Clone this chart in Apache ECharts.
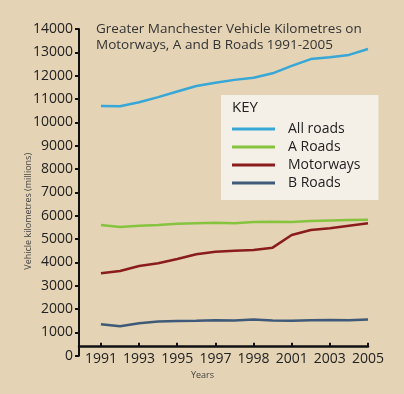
<!DOCTYPE html>
<html>
<head>
<meta charset="utf-8">
<script src="https://cdn.jsdelivr.net/npm/echarts@6/dist/echarts.min.js"></script>
<style>
  html, body { margin: 0; padding: 0; background: #e4d3b5; }
  #chart { width: 404px; height: 394px; }
</style>
</head>
<body>
<div id="chart"></div>
<script>
const years = [1991, 1992, 1993, 1994, 1995, 1996, 1997, 1998, 1999, 2000, 2001, 2002, 2003, 2004, 2005];
const allRoads = [10700, 10690, 10860, 11080, 11320, 11560, 11700, 11820, 11910, 12100, 12420, 12710, 12790, 12890, 13140];
const aRoads = [5600, 5520, 5570, 5600, 5650, 5680, 5700, 5680, 5730, 5740, 5730, 5770, 5790, 5810, 5830];
const motorways = [3530, 3630, 3845, 3960, 4145, 4345, 4455, 4500, 4530, 4630, 5175, 5390, 5460, 5570, 5675];
const bRoads = [1350, 1260, 1390, 1470, 1490, 1500, 1520, 1510, 1550, 1510, 1500, 1520, 1530, 1520, 1550];
const tickYears = [1991, 1993, 1995, 1997, 1999, 2001, 2003, 2005];
const tickLabels = ['1991', '1993', '1995', '1997', '1998', '2001', '2003', '2005'];
const seriesNames = ['All roads', 'A Roads', 'Motorways', 'B Roads'];
const seriesValues = [allRoads, aRoads, motorways, bRoads];
const seriesColors = ['#36a7d6', '#86c440', '#8a1d1b', '#3e5a78'];

const font = 'Open Sans';
const chart = echarts.init(document.getElementById('chart'), null, { renderer: 'canvas' });
chart.setOption({
  backgroundColor: '#e4d3b5',
  animation: false,
  textStyle: { fontFamily: font },
  title: [
    {
      text: 'Greater Manchester Vehicle Kilometres on\nMotorways, A and B Roads 1991-2005',
      left: 91, top: 16,
      textStyle: { fontFamily: font, fontSize: 13.5, fontWeight: 'normal', color: '#333', lineHeight: 16 }
    },
    {
      text: 'KEY', left: 227, top: 95, z: 10,
      textStyle: { fontFamily: font, fontSize: 15, fontWeight: 'normal', color: '#222' }
    }
  ],
  legend: {
    left: 221, top: 95,
    orient: 'vertical',
    backgroundColor: 'rgba(248,245,240,0.85)',
    padding: [27, 18, 10, 11],
    itemGap: 4,
    itemWidth: 43, itemHeight: 3,
    icon: 'rect',
    data: seriesNames,
    textStyle: { fontFamily: font, fontSize: 14, color: '#222', padding: [0, 0, 0, 8] }
  },
  grid: { left: 79, right: 36, top: 29, bottom: 38.3 },
  xAxis: {
    type: 'value',
    min: 1989.85, max: 2005,
    offset: -9,
    name: 'Years',
    nameLocation: 'middle',
    nameGap: 17,
    nameTextStyle: { fontFamily: font, fontSize: 9, color: '#444', padding: [0, 42, 0, 0] },
    axisLine: { show: true, lineStyle: { color: '#111', width: 2.5 } },
    axisTick: { show: true, inside: true, length: 4, customValues: tickYears, lineStyle: { color: '#111', width: 2 } },
    axisLabel: {
      customValues: tickYears,
      margin: 5,
      fontFamily: font, fontSize: 14, color: '#222',
      formatter: function (v) { const i = tickYears.indexOf(Math.round(v)); return i >= 0 ? tickLabels[i] : ''; }
    },
    splitLine: { show: false }
  },
  yAxis: {
    type: 'value',
    min: 0, max: 14000, interval: 1000,
    name: 'Vehicle kilometres (millions)',
    nameLocation: 'middle',
    nameGap: 46,
    nameMoveOverlap: false,
    nameRotate: 90,
    nameTextStyle: { fontFamily: font, fontSize: 9, color: '#444', padding: [0, 38, 0, 0] },
    axisLine: { show: true, lineStyle: { color: '#111', width: 2 } },
    axisTick: { show: true, inside: false, length: 4, lineStyle: { color: '#111', width: 2 } },
    axisLabel: {
      margin: 6, fontFamily: font, fontSize: 14, color: '#222',
      formatter: function (v) { return String(v); }
    },
    splitLine: { show: false }
  },
  series: seriesNames.map(function (name, k) {
    return {
      name: name,
      type: 'line',
      showSymbol: false,
      symbol: 'none',
      color: seriesColors[k],
      lineStyle: { width: 2.5, color: seriesColors[k] },
      data: years.map(function (y, i) { return [y, seriesValues[k][i]]; })
    };
  })
});
</script>
</body>
</html>
